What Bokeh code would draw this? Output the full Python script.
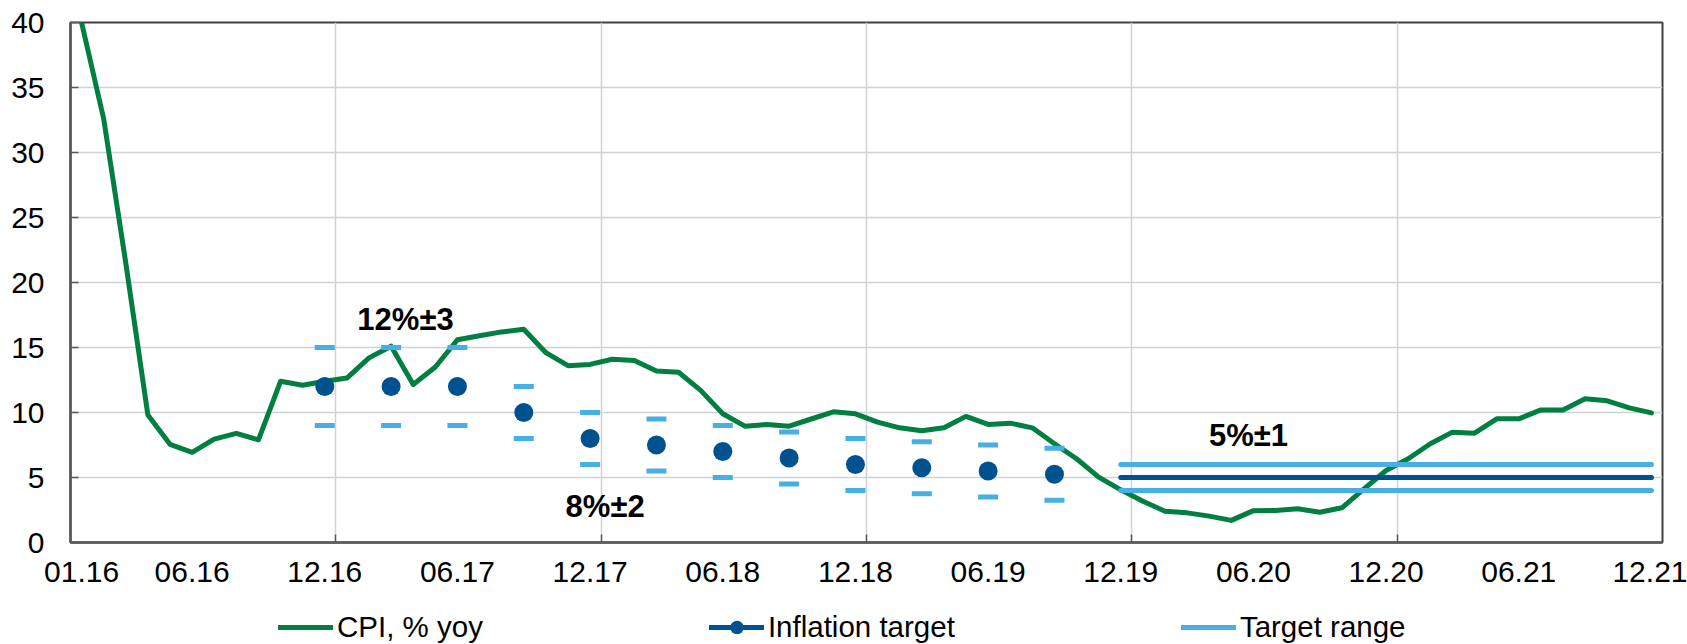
from bokeh.plotting import figure
from bokeh.models import Range1d, FixedTicker, Label, Legend, LegendItem, Grid
from bokeh.layouts import column
from bokeh.embed import file_html
from bokeh.resources import INLINE

# ---------------- data ----------------
# monthly CPI, % yoy, 01.16 .. 12.21 (72 months)
cpi = [40.0, 32.6, 21.5, 9.8, 7.55, 6.94, 7.95, 8.4, 7.9, 12.4, 12.1, 12.4,
       12.65, 14.2, 15.1, 12.15, 13.5, 15.6, 15.9, 16.2, 16.4, 14.6, 13.6, 13.7,
       14.1, 14.0, 13.2, 13.1, 11.7, 9.9, 8.95, 9.08, 8.95, 9.5, 10.05, 9.9,
       9.26, 8.82, 8.6, 8.82, 9.7, 9.08, 9.18, 8.82, 7.6, 6.44, 5.03, 4.05,
       3.18, 2.41, 2.28, 2.03, 1.7, 2.45, 2.46, 2.59, 2.33, 2.67, 4.13, 5.54,
       6.44, 7.6, 8.49, 8.41, 9.51, 9.51, 10.2, 10.2, 11.05, 10.9, 10.36, 9.97]

# quarterly inflation targets (month index from 01.16 = 0)
target_months = [11, 14, 17, 20, 23, 26, 29, 32, 35, 38, 41, 44]
target_value = [12, 12, 12, 10, 8, 7.5, 7, 6.5, 6, 5.75, 5.5, 5.25]
range_upper = [15, 15, 15, 12, 10, 9.5, 9, 8.5, 8, 7.75, 7.5, 7.25]
range_lower = [9, 9, 9, 8, 6, 5.5, 5, 4.5, 4, 3.75, 3.5, 3.25]

# permanent target 5% +/- 1 from 12.19 to 12.21
perm_months = [47, 71]
perm_target = [5, 5]
perm_upper = [6, 6]
perm_lower = [4, 4]

tick_months = [0, 5, 11, 17, 23, 29, 35, 41, 47, 53, 59, 65, 71]
tick_labels = ["01.16", "06.16", "12.16", "06.17", "12.17", "06.18", "12.18",
               "06.19", "12.19", "06.20", "12.20", "06.21", "12.21"]
year_bounds = [12, 24, 36, 48, 60]
y_ticks = [0, 5, 10, 15, 20, 25, 30, 35, 40]

annot_text = ["12%±3", "8%±2", "5%±1"]
annot_x = [15.15, 24.18, 53.28]
annot_y = [17.17, 2.74, 8.25]

legend_labels = ["CPI, % yoy", "Inflation target", "Target range"]

# ---------------- styles ----------------
GREEN = "#007f41"
DARK = "#00518f"
LIGHT = "#47afe3"
FONT = "Liberation Sans"
AXIS = "#595959"
GRID = "#d0d3d6"

def cx(months):
    return [m + 0.5 for m in months]


def draw_series(fig):
    r_cpi = fig.line(cx(range(len(cpi))), cpi, line_color=GREEN, line_width=5,
                     line_join="round", line_cap="round")
    fig.scatter(cx(target_months), range_upper, marker="dash", size=20,
                line_color=LIGHT, line_width=5)
    fig.scatter(cx(target_months), range_lower, marker="dash", size=20,
                line_color=LIGHT, line_width=5)
    r_dots = fig.scatter(cx(target_months), target_value, marker="circle", size=19,
                         fill_color=DARK, line_color=DARK, line_width=0)
    r_up = fig.line(cx(perm_months), perm_upper, line_color=LIGHT, line_width=5,
                    line_cap="round")
    fig.line(cx(perm_months), perm_lower, line_color=LIGHT, line_width=5,
             line_cap="round")
    r_mid = fig.line(cx(perm_months), perm_target, line_color=DARK, line_width=5,
                     line_cap="round")
    return r_cpi, r_dots, r_up, r_mid


p = figure(width=1687, height=597, output_backend="svg", toolbar_location=None,
           x_range=Range1d(0, 72), y_range=Range1d(0, 40),
           min_border_left=70, min_border_right=25, min_border_top=22,
           min_border_bottom=55)
p.background_fill_color = "white"
p.border_fill_color = "white"
p.outline_line_color = "#404040"
p.outline_line_width = 2

# grids
p.xgrid.visible = False
p.ygrid.visible = False
p.add_layout(Grid(dimension=0, ticker=FixedTicker(ticks=year_bounds),
                  grid_line_color=GRID, grid_line_width=1.5))
p.add_layout(Grid(dimension=1, ticker=FixedTicker(ticks=y_ticks[1:-1]),
                  grid_line_color=GRID, grid_line_width=1.5))

# x axis
xa = p.xaxis[0]
xa.ticker = FixedTicker(ticks=cx(tick_months), minor_ticks=year_bounds)
xa.major_label_overrides = {m + 0.5: lab for m, lab in zip(tick_months, tick_labels)}
xa.major_tick_in = 0
xa.major_tick_out = 0
xa.minor_tick_in = 8
xa.minor_tick_out = 0
xa.minor_tick_line_color = AXIS
xa.minor_tick_line_width = 1.5
xa.axis_line_color = AXIS
xa.axis_line_width = 2.5
xa.major_label_text_font = FONT
xa.major_label_text_font_size = "30px"
xa.major_label_text_color = "black"
xa.major_label_standoff = 19

# y axis
ya = p.yaxis[0]
ya.ticker = FixedTicker(ticks=y_ticks)
ya.major_tick_in = 8
ya.major_tick_out = 0
ya.minor_tick_line_color = None
ya.major_tick_line_color = AXIS
ya.major_tick_line_width = 1.5
ya.axis_line_color = AXIS
ya.axis_line_width = 2.5
ya.major_label_text_font = FONT
ya.major_label_text_font_size = "30px"
ya.major_label_text_color = "black"
ya.major_label_standoff = 26

draw_series(p)

for t, x, y in zip(annot_text, annot_x, annot_y):
    p.add_layout(Label(x=x, y=y, text=t, text_font=FONT, text_font_style="bold",
                       text_font_size="31px", text_color="black",
                       text_align="center", text_baseline="alphabetic"))

# ---------------- legend strip ----------------
# same series, drawn against a y-range that keeps them out of view:
# only their legend glyphs show in this strip
lf = figure(width=1687, height=47, output_backend="svg", toolbar_location=None,
            x_range=Range1d(0, 72), y_range=Range1d(-2, -1),
            x_axis_type=None, y_axis_type=None,
            min_border_left=70, min_border_right=25, min_border_top=0,
            min_border_bottom=0)
lf.outline_line_color = None
lf.xgrid.visible = False
lf.ygrid.visible = False
lf.background_fill_color = "white"
lf.border_fill_color = "white"

k_cpi, k_dots, k_up, k_mid = draw_series(lf)

legend = Legend(items=[
    LegendItem(label=legend_labels[0], renderers=[k_cpi]),
    LegendItem(label=legend_labels[1], renderers=[k_mid, k_dots]),
    LegendItem(label=legend_labels[2], renderers=[k_up]),
], orientation="horizontal", location=(208, 0), spacing=226,
    glyph_width=55, glyph_height=34, label_height=34, label_standoff=4,
    padding=0, margin=0, label_text_font=FONT, label_text_font_size="29.5px",
    label_text_color="black", background_fill_alpha=0, border_line_alpha=0)
lf.add_layout(legend, "center")

open("out.html", "w").write(file_html(column(p, lf, spacing=0), INLINE))
